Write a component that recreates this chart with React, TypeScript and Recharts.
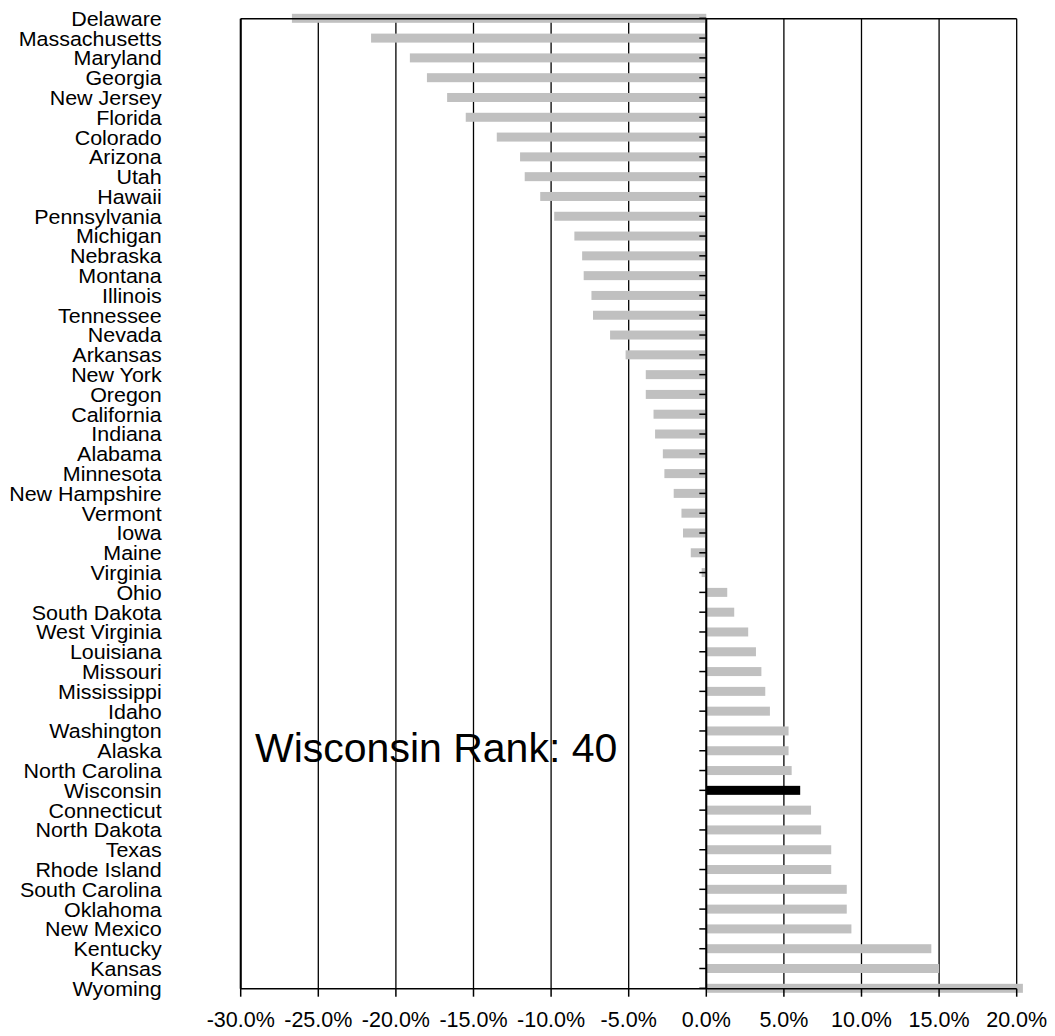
import React from "react";
import {
  Bar,
  CartesianGrid,
  Cell,
  ComposedChart,
  ReferenceLine,
  XAxis,
  YAxis,
} from "recharts";

const FONT = "'Liberation Sans', Arial, sans-serif";

const STATES = [
  "Delaware", "Massachusetts", "Maryland", "Georgia", "New Jersey", "Florida", "Colorado",
  "Arizona", "Utah", "Hawaii", "Pennsylvania", "Michigan", "Nebraska", "Montana", "Illinois",
  "Tennessee", "Nevada", "Arkansas", "New York", "Oregon", "California", "Indiana", "Alabama",
  "Minnesota", "New Hampshire", "Vermont", "Iowa", "Maine", "Virginia", "Ohio", "South Dakota",
  "West Virginia", "Louisiana", "Missouri", "Mississippi", "Idaho", "Washington", "Alaska",
  "North Carolina", "Wisconsin", "Connecticut", "North Dakota", "Texas", "Rhode Island",
  "South Carolina", "Oklahoma", "New Mexico", "Kentucky", "Kansas", "Wyoming",
];

// percent change
const CHANGE = [
  -26.7, -21.6, -19.1, -18.0, -16.7, -15.5, -13.5,
  -12.0, -11.7, -10.7, -9.8, -8.5, -8.0, -7.9, -7.4,
  -7.3, -6.2, -5.2, -3.9, -3.9, -3.4, -3.3, -2.8,
  -2.7, -2.1, -1.6, -1.5, -1.0, -0.3, 1.35, 1.8,
  2.7, 3.2, 3.55, 3.8, 4.1, 5.3, 5.3,
  5.5, 6.05, 6.75, 7.4, 8.05, 8.05,
  9.05, 9.05, 9.35, 14.5, 15.0, 20.4,
];

const X_TICKS = [-30, -25, -20, -15, -10, -5, 0, 5, 10, 15, 20];
const HIGHLIGHT = "Wisconsin";
const RANK_LABEL = "Wisconsin Rank: 40";

const data = STATES.map((state, idx) => ({ idx, state, value: CHANGE[idx] }));
const rowTicks = STATES.map((_, i) => i);
const lastRow = STATES.length - 1;

function StateTick({ x, y, payload }: any) {
  return (
    <text
      x={0}
      y={0}
      dy="0.36em"
      transform={`translate(${x},${y}) scale(1.1,1)`}
      textAnchor="end"
      fill="#000"
      fontSize={19.5}
      fontFamily={FONT}
    >
      {STATES[payload.value]}
    </text>
  );
}

// bar plus the little tick mark on the zero axis
function BarWithTick(props: any) {
  const { x, y, width, height, fill, payload } = props;
  const left = Math.min(x, x + width);
  const w = Math.abs(width);
  const zeroX = payload.value < 0 ? left + w : left;
  const cy = y + height / 2;
  return (
    <g>
      <rect x={left} y={y} width={w} height={height} fill={fill} />
      <line x1={zeroX - 7} x2={zeroX} y1={cy} y2={cy} stroke="#000" strokeWidth={1.5} />
    </g>
  );
}

export default function App() {
  return (
    <div style={{ width: 1047, height: 1028, fontFamily: FONT }}>
      <ComposedChart
        width={1047}
        height={1028}
        data={data}
        layout="vertical"
        margin={{ top: 10.7, right: 32.1, bottom: 0, left: 0 }}
      >
        <CartesianGrid horizontal={false} syncWithTicks stroke="#000" strokeWidth={1.3} />
        <XAxis
          type="number"
          domain={[-30, "dataMax"]}
          ticks={X_TICKS}
          interval={0}
          height={47.3}
          axisLine={false}
          tickLine={{ stroke: "#000", strokeWidth: 1.5 }}
          tickSize={8}
          tickMargin={15}
          tickFormatter={(v: number) => `${v.toFixed(1)}%`}
          tick={{ fill: "#000", fontSize: 21.5, fontFamily: FONT }}
        />
        <YAxis
          type="number"
          dataKey="idx"
          domain={[0, lastRow]}
          ticks={rowTicks}
          interval={0}
          width={232.7}
          axisLine={{ stroke: "#000", strokeWidth: 2 }}
          tickLine={false}
          tickSize={0}
          tickMargin={79}
          tick={<StateTick />}
        />
        <Bar dataKey="value" barSize={9} isAnimationActive={false} shape={<BarWithTick />}>
          {data.map((d) => (
            <Cell key={d.state} fill={d.state === HIGHLIGHT ? "#000000" : "#c0c0c0"} />
          ))}
        </Bar>
        <ReferenceLine x={0} stroke="#000" strokeWidth={2} />
        <ReferenceLine
          segment={[{ x: -30, y: 0 }, { x: 20, y: 0 }]}
          stroke="#000"
          strokeWidth={1.5}
        />
        <ReferenceLine
          segment={[{ x: -30, y: lastRow }, { x: 20, y: lastRow }]}
          stroke="#000"
          strokeWidth={1.5}
        />
        <text x={247} y={754} fontSize={41} fontFamily={FONT} fill="#000">
          {RANK_LABEL}
        </text>
      </ComposedChart>
    </div>
  );
}
